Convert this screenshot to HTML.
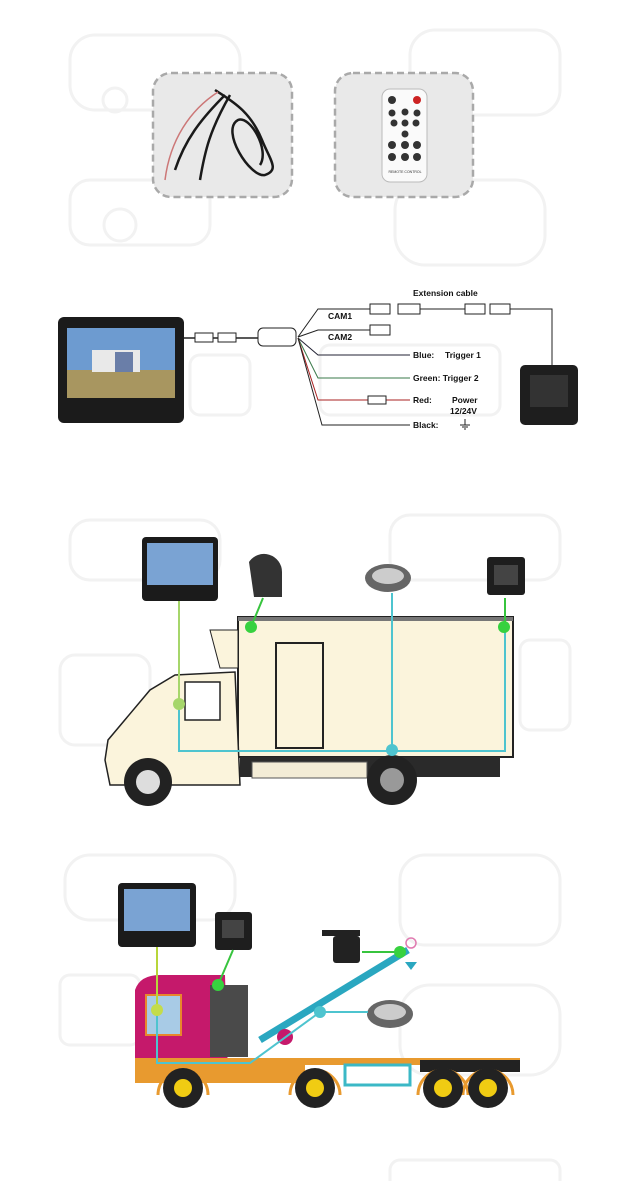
<!DOCTYPE html>
<html><head><meta charset="utf-8"><style>
html,body{margin:0;padding:0;background:#fff;}
svg{display:block;font-family:"Liberation Sans",sans-serif;}
</style></head><body>
<svg width="620" height="1181" viewBox="0 0 620 1181" xmlns="http://www.w3.org/2000/svg">
<g fill="none" stroke="#f2f2f2" stroke-width="3">
<rect x="70" y="35" width="170" height="75" rx="25"/><circle cx="115" cy="100" r="12"/><circle cx="200" cy="100" r="12"/>
<rect x="410" y="30" width="150" height="85" rx="25"/><circle cx="450" cy="110" r="12"/>
<rect x="70" y="180" width="140" height="65" rx="20"/><circle cx="120" cy="225" r="16"/>
<rect x="395" y="180" width="150" height="85" rx="30"/>
<rect x="320" y="345" width="180" height="70" rx="10"/><rect x="190" y="355" width="60" height="60" rx="10"/>
<rect x="70" y="520" width="150" height="60" rx="20"/><rect x="390" y="515" width="170" height="65" rx="20"/>
<rect x="60" y="655" width="90" height="90" rx="15"/><rect x="520" y="640" width="50" height="90" rx="10"/>
<rect x="65" y="855" width="170" height="65" rx="25"/><rect x="400" y="855" width="160" height="90" rx="25"/>
<rect x="60" y="975" width="80" height="70" rx="10"/><rect x="400" y="985" width="160" height="90" rx="30"/>
<rect x="390" y="1160" width="170" height="30" rx="10"/>
</g>
<rect x="153" y="73" width="139" height="124" rx="18" fill="#e9e9e9" stroke="#a9a9a9" stroke-width="2.5" stroke-dasharray="7,4"/>
<rect x="335" y="73" width="138" height="124" rx="18" fill="#e9e9e9" stroke="#a9a9a9" stroke-width="2.5" stroke-dasharray="7,4"/>
<g fill="none" stroke="#1a1a1a" stroke-width="2.5">
<path d="M215 90 C230 100 250 110 262 140 C270 160 280 170 265 175 C250 178 220 130 238 120 C250 115 270 150 260 165"/>
<path d="M225 95 C200 120 185 140 175 170"/><path d="M230 95 C210 130 205 150 200 180"/>
</g>
<path d="M218 92 C190 110 170 140 165 180" stroke="#c77" stroke-width="1.5" fill="none"/>
<rect x="382" y="89" width="45" height="93" rx="8" fill="#fafafa" stroke="#bbb"/>
<circle cx="392" cy="100" r="4" fill="#333"/><circle cx="417" cy="100" r="4" fill="#c22"/>
<g fill="#333"><circle cx="392" cy="113" r="3.5"/><circle cx="405" cy="112" r="3.5"/><circle cx="417" cy="113" r="3.5"/>
<circle cx="394" cy="123" r="3.5"/><circle cx="405" cy="123" r="3.5"/><circle cx="416" cy="123" r="3.5"/><circle cx="405" cy="134" r="3.5"/>
<circle cx="392" cy="145" r="4"/><circle cx="405" cy="145" r="4"/><circle cx="417" cy="145" r="4"/>
<circle cx="392" cy="157" r="4"/><circle cx="405" cy="157" r="4"/><circle cx="417" cy="157" r="4"/></g>
<text x="405" y="173" font-size="3.5" text-anchor="middle" fill="#333">REMOTE CONTROL</text>

<rect x="58" y="317" width="126" height="106" rx="6" fill="#1b1b1b"/>
<rect x="67" y="328" width="108" height="70" fill="#6d9bd0"/>
<rect x="67" y="370" width="108" height="28" fill="#a89660"/>
<rect x="92" y="350" width="48" height="22" fill="#e9e9e9"/><rect x="115" y="352" width="18" height="20" fill="#6a7ea8"/>
<line x1="184" y1="338" x2="262" y2="338" stroke="#222" stroke-width="1.5"/>
<rect x="195" y="333" width="18" height="9" fill="#fff" stroke="#222"/><rect x="218" y="333" width="18" height="9" fill="#fff" stroke="#222"/>
<rect x="258" y="328" width="38" height="18" rx="5" fill="#fff" stroke="#222"/>
<g fill="none" stroke-width="1"><path d="M298 337 L318 309 L370 309" stroke="#222"/><path d="M298 337 L318 330 L370 330" stroke="#222"/>
<path d="M298 338 L318 355 L410 355" stroke="#223"/><path d="M298 338 L318 378 L410 378" stroke="#3a7a4a"/>
<path d="M298 338 L318 400 L410 400" stroke="#a22"/><path d="M298 338 L322 425 L410 425" stroke="#222"/>
<path d="M510 309 L552 309 L552 372" stroke="#222"/><path d="M420 309 L465 309" stroke="#222"/></g>
<g fill="#fff" stroke="#222"><rect x="370" y="304" width="20" height="10"/><rect x="398" y="304" width="22" height="10"/>
<rect x="465" y="304" width="20" height="10"/><rect x="490" y="304" width="20" height="10"/><rect x="370" y="325" width="20" height="10"/>
<rect x="368" y="396" width="18" height="8"/></g>
<g font-size="8.5" font-weight="bold" fill="#111">
<text x="413" y="296">Extension cable</text><text x="328" y="319">CAM1</text><text x="328" y="340">CAM2</text>
<text x="413" y="358">Blue:</text><text x="445" y="358">Trigger 1</text><text x="413" y="381">Green: Trigger 2</text>
<text x="413" y="403">Red:</text><text x="452" y="403">Power</text><text x="450" y="414">12/24V</text><text x="413" y="428">Black:</text></g>
<path d="M465 419 v6 M460 425 h10 M462 427 h6 M464 429 h2" stroke="#222"/>
<rect x="520" y="365" width="58" height="60" rx="5" fill="#1e1e1e"/><rect x="530" y="375" width="38" height="32" fill="#333"/>

<path d="M238 617 H513 V757 H238 Z" fill="#fbf4dc" stroke="#222" stroke-width="2"/>
<rect x="238" y="617" width="275" height="4" fill="#777"/>
<rect x="276" y="643" width="47" height="105" fill="none" stroke="#222" stroke-width="2"/>
<path d="M210 630 H238 V668 H220 Z" fill="#fbf4dc" stroke="#222"/>
<path d="M105 760 L108 740 L150 690 L175 675 L235 672 L240 785 L110 785 Z" fill="#fbf4dc" stroke="#222" stroke-width="1.5"/>
<rect x="185" y="682" width="35" height="38" fill="#fff" stroke="#222" stroke-width="1.5"/>
<rect x="240" y="757" width="260" height="20" fill="#2a2a2a"/><rect x="252" y="762" width="115" height="16" fill="#f3ecd6" stroke="#555"/>
<circle cx="148" cy="782" r="24" fill="#222"/><circle cx="148" cy="782" r="12" fill="#ddd"/>
<circle cx="392" cy="780" r="25" fill="#222"/><circle cx="392" cy="780" r="12" fill="#999"/>
<rect x="142" y="537" width="76" height="64" rx="4" fill="#1b1b1b"/><rect x="147" y="543" width="66" height="42" fill="#7aa3d3"/>
<path d="M249 562 a18 18 0 0 1 33 10 v25 h-28 Z" fill="#333"/>
<ellipse cx="388" cy="578" rx="23" ry="14" fill="#666"/><ellipse cx="388" cy="576" rx="16" ry="8" fill="#ccc"/>
<rect x="487" y="557" width="38" height="38" rx="3" fill="#1e1e1e"/><rect x="494" y="565" width="24" height="20" fill="#444"/>
<g fill="none" stroke-width="2">
<path d="M179 601 V751" stroke="#a6d66b"/>
<path d="M179 705 V751 H505 V627" stroke="#4ec4cf"/><path d="M392 593 V751" stroke="#4ec4cf"/>
<path d="M263 598 L251 627" stroke="#37c43e"/><path d="M505 598 V627" stroke="#37c43e"/></g>
<circle cx="251" cy="627" r="6" fill="#37d13f"/><circle cx="504" cy="627" r="6" fill="#37d13f"/>
<circle cx="179" cy="704" r="6" fill="#a6d66b"/><circle cx="392" cy="750" r="6" fill="#4ec4cf"/>

<path d="M135 1075 L135 990 Q140 975 160 975 L225 975 L228 1075 Z" fill="#c5196b"/>
<rect x="210" y="985" width="38" height="72" fill="#4a4a4a"/>
<rect x="146" y="995" width="35" height="40" fill="#a8cbe6" stroke="#e8862c" stroke-width="2"/>
<rect x="135" y="1058" width="385" height="7" fill="#e89a2f"/>
<rect x="135" y="1065" width="170" height="18" fill="#e89a2f"/>
<rect x="345" y="1065" width="65" height="20" fill="none" stroke="#3bb8c6" stroke-width="3"/>
<rect x="420" y="1060" width="100" height="12" fill="#222"/>
<path d="M260 1040 L408 950" stroke="#2aa7c0" stroke-width="7"/>
<circle cx="285" cy="1037" r="8" fill="#c5196b"/>
<g fill="none" stroke="#e89a2f" stroke-width="3"><path d="M158 1095 a25 25 0 0 1 50 0"/><path d="M290 1095 a25 25 0 0 1 50 0"/><path d="M418 1095 a25 25 0 0 1 50 0"/><path d="M463 1095 a25 25 0 0 1 50 0"/></g>
<g fill="#222"><circle cx="183" cy="1088" r="20"/><circle cx="315" cy="1088" r="20"/><circle cx="443" cy="1088" r="20"/><circle cx="488" cy="1088" r="20"/></g>
<g fill="#f0cc13"><circle cx="183" cy="1088" r="9"/><circle cx="315" cy="1088" r="9"/><circle cx="443" cy="1088" r="9"/><circle cx="488" cy="1088" r="9"/></g>
<rect x="118" y="883" width="78" height="64" rx="4" fill="#1b1b1b"/><rect x="124" y="889" width="66" height="42" fill="#7aa3d3"/>
<rect x="215" y="912" width="37" height="38" rx="3" fill="#1e1e1e"/><rect x="222" y="920" width="22" height="18" fill="#444"/>
<rect x="333" y="936" width="27" height="27" rx="3" fill="#222"/><rect x="322" y="930" width="38" height="6" fill="#222"/>
<ellipse cx="390" cy="1014" rx="23" ry="14" fill="#666"/><ellipse cx="390" cy="1012" rx="16" ry="8" fill="#ccc"/>
<circle cx="411" cy="943" r="5" fill="none" stroke="#e07ab0" stroke-width="1.5"/>
<path d="M405 962 h12 l-6 8 Z" fill="#2aa7c0"/>
<g fill="none" stroke-width="2">
<path d="M157 947 V1010" stroke="#b7d63a"/>
<path d="M157 1010 V1063 H250 L320 1012" stroke="#4ec4cf"/><path d="M320 1012 H368" stroke="#4ec4cf"/>
<path d="M233 950 L218 985" stroke="#37c43e"/><path d="M362 952 H400" stroke="#37c43e"/></g>
<circle cx="218" cy="985" r="6" fill="#37d13f"/><circle cx="400" cy="952" r="6" fill="#37d13f"/>
<circle cx="157" cy="1010" r="6" fill="#c4dc4a"/><circle cx="320" cy="1012" r="6" fill="#4ec4cf"/>
</svg>
</body></html>
